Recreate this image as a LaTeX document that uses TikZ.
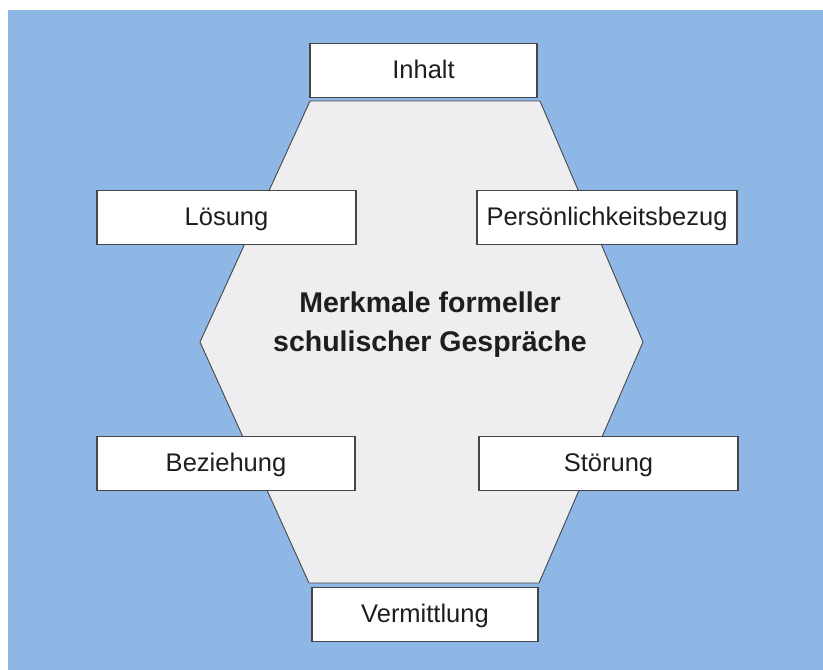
\documentclass[tikz,border=0pt]{standalone}
\usepackage{fontspec}
\setmainfont{Liberation Sans}
\definecolor{bgblue}{RGB}{143,183,230}
\definecolor{hexgray}{RGB}{238,238,240}
\definecolor{edgegray}{RGB}{70,70,72}
\definecolor{txt}{RGB}{30,30,30}
\begin{document}
\begin{tikzpicture}[x=1pt,y=-1pt,
  box/.style={draw=edgegray, line width=1.3pt, fill=white, inner sep=0pt,
    minimum height=54pt, text height=16pt, text depth=1pt, text=txt,
    font=\fontsize{25.5}{30}\selectfont},
  hexa/.style={draw=edgegray, line width=0.9pt, fill=hexgray}]
\useasboundingbox (0,0) rectangle (823,670);
\fill[white] (0,0) rectangle (823,670);
\fill[bgblue] (8,10) rectangle (823,670);
\coordinate (h1) at (310,101);
\coordinate (h2) at (540,101);
\coordinate (h3) at (643,342);
\coordinate (h4) at (539,583);
\coordinate (h5) at (309,583);
\coordinate (h6) at (200,342);
\draw[hexa] (h1) -- (h2) -- (h3) -- (h4) -- (h5) -- (h6) -- cycle;
\node[font=\bfseries\fontsize{28.5}{39}\selectfont, text=txt, align=center] (title) at (430,325)
  {Merkmale formeller\\schulischer Gespräche};
\node[box, minimum width=227pt] (inhalt) at (423.5,70.5) {Inhalt};
\node[box, minimum width=259pt] (loesung) at (226.5,217.5) {Lösung};
\node[box, minimum width=260pt] (pers) at (607,217.5) {Persönlichkeitsbezug};
\node[box, minimum width=258pt] (bez) at (226,463.5) {Beziehung};
\node[box, minimum width=259pt] (stoer) at (608.5,463.5) {Störung};
\node[box, minimum width=226pt] (verm) at (425,614.5) {Vermittlung};
\end{tikzpicture}
\end{document}
